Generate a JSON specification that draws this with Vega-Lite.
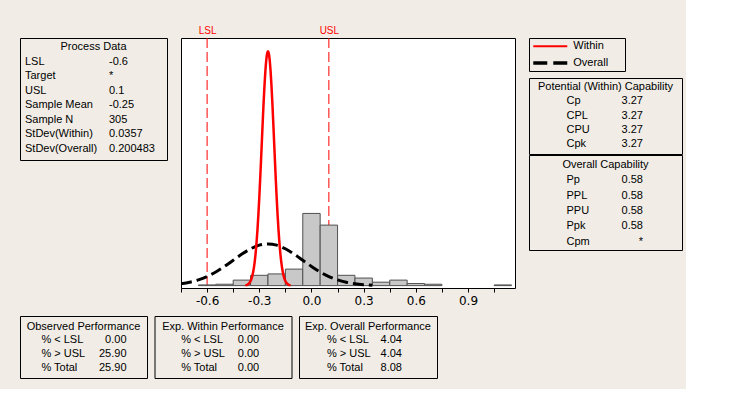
{
  "$schema": "https://vega.github.io/schema/vega-lite/v6.json",
  "background": "#f1ede6",
  "padding": {"left": 19, "top": 24, "right": 3, "bottom": 10},
  "config": {
    "view": {"stroke": "#000000", "strokeWidth": 1},
    "text": {"font": "Liberation Sans", "fontSize": 11, "color": "#000000"},
    "axis": {"labelFont": "DejaVu Sans"}
  },
  "datasets": {
    "hist": [
      {"lo": -0.65, "hi": -0.55, "density": 0.0328},
      {"lo": -0.55, "hi": -0.45, "density": 0.0656},
      {"lo": -0.45, "hi": -0.35, "density": 0.2623},
      {"lo": -0.35, "hi": -0.25, "density": 0.4918},
      {"lo": -0.25, "hi": -0.15, "density": 0.5574},
      {"lo": -0.15, "hi": -0.05, "density": 0.7869},
      {"lo": -0.05, "hi": 0.05, "density": 3.4426},
      {"lo": 0.05, "hi": 0.15, "density": 2.8852},
      {"lo": 0.15, "hi": 0.25, "density": 0.4918},
      {"lo": 0.25, "hi": 0.35, "density": 0.3607},
      {"lo": 0.35, "hi": 0.45, "density": 0.1639},
      {"lo": 0.45, "hi": 0.55, "density": 0.2623},
      {"lo": 0.55, "hi": 0.65, "density": 0.0984},
      {"lo": 0.65, "hi": 0.75, "density": 0.0656},
      {"lo": 1.05, "hi": 1.15, "density": 0.0328}
    ],
    "overall": [
      {"x": -0.75, "density": 0.0887}, {"x": -0.70, "density": 0.1603}, {"x": -0.65, "density": 0.2719},
      {"x": -0.60, "density": 0.4335}, {"x": -0.55, "density": 0.6495}, {"x": -0.50, "density": 0.9144},
      {"x": -0.45, "density": 1.2098}, {"x": -0.40, "density": 1.5040}, {"x": -0.35, "density": 1.7571},
      {"x": -0.30, "density": 1.9289}, {"x": -0.25, "density": 1.9898}, {"x": -0.20, "density": 1.9289},
      {"x": -0.15, "density": 1.7571}, {"x": -0.10, "density": 1.5040}, {"x": -0.05, "density": 1.2098},
      {"x": 0.00, "density": 0.9144}, {"x": 0.05, "density": 0.6495}, {"x": 0.10, "density": 0.4335},
      {"x": 0.15, "density": 0.2719}, {"x": 0.20, "density": 0.1603}, {"x": 0.25, "density": 0.0887},
      {"x": 0.30, "density": 0.0462}, {"x": 0.35, "density": 0.0226}
    ],
    "within": [
      {"x": -0.38, "density": 0.0148}, {"x": -0.375, "density": 0.0243}, {"x": -0.37, "density": 0.0393},
      {"x": -0.365, "density": 0.0624}, {"x": -0.36, "density": 0.0970}, {"x": -0.355, "density": 0.1478},
      {"x": -0.35, "density": 0.2210}, {"x": -0.345, "density": 0.3240}, {"x": -0.34, "density": 0.4658},
      {"x": -0.335, "density": 0.6564}, {"x": -0.33, "density": 0.9075}, {"x": -0.325, "density": 1.2300},
      {"x": -0.32, "density": 1.6346}, {"x": -0.315, "density": 2.1300}, {"x": -0.31, "density": 2.7220},
      {"x": -0.305, "density": 3.4110}, {"x": -0.30, "density": 4.1910}, {"x": -0.295, "density": 5.0490},
      {"x": -0.29, "density": 5.9660}, {"x": -0.285, "density": 6.9100}, {"x": -0.28, "density": 7.8510},
      {"x": -0.275, "density": 8.7450}, {"x": -0.27, "density": 9.5520}, {"x": -0.265, "density": 10.231},
      {"x": -0.26, "density": 10.745}, {"x": -0.255, "density": 11.066}, {"x": -0.25, "density": 11.175},
      {"x": -0.245, "density": 11.066}, {"x": -0.24, "density": 10.745}, {"x": -0.235, "density": 10.231},
      {"x": -0.23, "density": 9.5520}, {"x": -0.225, "density": 8.7450}, {"x": -0.22, "density": 7.8510},
      {"x": -0.215, "density": 6.9100}, {"x": -0.21, "density": 5.9660}, {"x": -0.205, "density": 5.0490},
      {"x": -0.20, "density": 4.1910}, {"x": -0.195, "density": 3.4110}, {"x": -0.19, "density": 2.7220},
      {"x": -0.185, "density": 2.1300}, {"x": -0.18, "density": 1.6346}, {"x": -0.175, "density": 1.2300},
      {"x": -0.17, "density": 0.9075}, {"x": -0.165, "density": 0.6564}, {"x": -0.16, "density": 0.4658},
      {"x": -0.155, "density": 0.3240}, {"x": -0.15, "density": 0.2210}, {"x": -0.145, "density": 0.1478},
      {"x": -0.14, "density": 0.0970}, {"x": -0.135, "density": 0.0624}, {"x": -0.13, "density": 0.0393},
      {"x": -0.125, "density": 0.0243}, {"x": -0.12, "density": 0.0148}
    ],
    "limits": [{"v": -0.6, "lab": "LSL"}, {"v": 0.1, "lab": "USL"}],
    "pd": [
      {"i": 1, "name": "LSL", "value": "-0.6"},
      {"i": 2, "name": "Target", "value": "*"},
      {"i": 3, "name": "USL", "value": "0.1"},
      {"i": 4, "name": "Sample Mean", "value": "-0.25"},
      {"i": 5, "name": "Sample N", "value": "305"},
      {"i": 6, "name": "StDev(Within)", "value": "0.0357"},
      {"i": 7, "name": "StDev(Overall)", "value": "0.200483"}
    ],
    "capw": [
      {"i": 1, "name": "Cp", "value": "3.27"},
      {"i": 2, "name": "CPL", "value": "3.27"},
      {"i": 3, "name": "CPU", "value": "3.27"},
      {"i": 4, "name": "Cpk", "value": "3.27"}
    ],
    "capo": [
      {"i": 1, "name": "Pp", "value": "0.58"},
      {"i": 2, "name": "PPL", "value": "0.58"},
      {"i": 3, "name": "PPU", "value": "0.58"},
      {"i": 4, "name": "Ppk", "value": "0.58"},
      {"i": 5, "name": "Cpm", "value": "*"}
    ],
    "obs": [
      {"i": 1, "name": "% < LSL", "value": "0.00"},
      {"i": 2, "name": "% > USL", "value": "25.90"},
      {"i": 3, "name": "% Total", "value": "25.90"}
    ],
    "expw": [
      {"i": 1, "name": "% < LSL", "value": "0.00"},
      {"i": 2, "name": "% > USL", "value": "0.00"},
      {"i": 3, "name": "% Total", "value": "0.00"}
    ],
    "expo": [
      {"i": 1, "name": "% < LSL", "value": "4.04"},
      {"i": 2, "name": "% > USL", "value": "4.04"},
      {"i": 3, "name": "% Total", "value": "8.08"}
    ]
  },
  "spacing": 8,
  "vconcat": [
    {
      "bounds": "flush",
      "spacing": 14,
      "hconcat": [
        {
          "width": 147, "height": 122,
          "view": {"stroke": "#000000"},
          "layer": [
            {"data": {"values": [{"i": 0, "t": "Process Data"}]},
             "mark": {"type": "text", "align": "center", "baseline": "middle"},
             "encoding": {
               "y": {"field": "i", "type": "ordinal", "axis": null, "scale": {"type": "point", "domain": [0, 1, 2, 3, 4, 5, 6, 7], "padding": 0.699, "align": 0.443}},
               "text": {"field": "t"}}},
            {"data": {"name": "pd"},
             "mark": {"type": "text", "align": "left", "baseline": "middle"},
             "encoding": {
               "x": {"datum": "name", "type": "nominal", "bandPosition": 0, "axis": null, "scale": {"type": "band", "domain": ["name", "value"], "paddingInner": 0.369, "paddingOuter": 0.0595, "align": 0.5}},
               "y": {"field": "i", "type": "ordinal", "axis": null},
               "text": {"field": "name"}}},
            {"data": {"name": "pd"},
             "mark": {"type": "text", "align": "left", "baseline": "middle"},
             "encoding": {
               "x": {"datum": "value", "type": "nominal", "bandPosition": 0, "axis": null},
               "y": {"field": "i", "type": "ordinal", "axis": null},
               "text": {"field": "value"}}}
          ]
        },
        {
          "width": 334, "height": 250,
          "view": {"stroke": "#000000", "fill": "#ffffff"},
          "resolve": {"axis": {"x": "independent"}},
          "layer": [
            {"data": {"name": "limits"},
             "mark": {"type": "rule", "color": "#ff0000", "strokeWidth": 1, "strokeDash": [10, 4]},
             "encoding": {
               "x": {"field": "v", "type": "quantitative",
                     "scale": {"domain": [-0.75, 1.17], "nice": false, "zero": false},
                     "axis": {"orient": "top", "values": [-0.6, 0.1], "labelExpr": "datum.value < 0 ? 'LSL' : 'USL'", "ticks": false, "domain": false, "grid": false, "title": null, "labelColor": "#ff0000", "labelFont": "Liberation Sans", "labelFontSize": 10, "labelPadding": 3, "labelFlush": false}}}},
            {"data": {"name": "hist"},
             "mark": {"type": "bar", "fill": "#c8c8c8", "stroke": "#505050", "strokeWidth": 1},
             "encoding": {
               "x": {"field": "lo", "type": "quantitative",
                     "scale": {"domain": [-0.75, 1.17], "nice": false, "zero": false},
                     "axis": {"orient": "bottom", "values": [-0.75, -0.6, -0.45, -0.3, -0.15, 0, 0.15, 0.3, 0.45, 0.6, 0.75, 0.9, 1.05],
                              "labelExpr": "abs(datum.value*10/3 - round(datum.value*10/3)) < 0.01 ? ((datum.value < -0.001 ? '-' : '') + format(abs(datum.value), '.1f')) : ''",
                              "tickSize": 4, "tickColor": "#000000", "domain": false, "grid": false, "title": null,
                              "labelFont": "DejaVu Sans", "labelFontSize": 12, "labelColor": "#000000", "labelPadding": 3, "labelFlush": false, "labelOverlap": false}},
               "x2": {"field": "hi"},
               "y": {"field": "density", "type": "quantitative", "axis": null,
                     "scale": {"domain": [-0.114, 11.81], "nice": false, "zero": false}},
               "y2": {"datum": 0}}},
            {"data": {"name": "overall"},
             "mark": {"type": "line", "color": "#000000", "strokeWidth": 3, "strokeDash": [11, 5], "interpolate": "monotone", "clip": true},
             "encoding": {
               "x": {"field": "x", "type": "quantitative", "axis": null, "scale": {"domain": [-0.75, 1.17], "nice": false, "zero": false}},
               "y": {"field": "density", "type": "quantitative", "axis": null, "scale": {"domain": [-0.114, 11.81], "nice": false, "zero": false}}}},
            {"data": {"name": "within"},
             "mark": {"type": "line", "color": "#ff0000", "strokeWidth": 2.5, "interpolate": "monotone", "clip": true},
             "encoding": {
               "x": {"field": "x", "type": "quantitative", "axis": null, "scale": {"domain": [-0.75, 1.17], "nice": false, "zero": false}},
               "y": {"field": "density", "type": "quantitative", "axis": null, "scale": {"domain": [-0.114, 11.81], "nice": false, "zero": false}}}}
          ]
        },
        {
          "spacing": 5,
          "vconcat": [
            {
              "width": 96, "height": 33,
              "view": {"stroke": "#000000"},
              "data": {"values": [{"curve": "Within"}, {"curve": "Overall"}]},
              "layer": [
                {"mark": {"type": "rule"},
                 "encoding": {
                   "x": {"datum": "a", "type": "nominal", "axis": null, "scale": {"type": "point", "domain": ["a", "b"], "padding": 0.912, "align": 0.069}},
                   "x2": {"datum": "b"},
                   "y": {"field": "curve", "type": "nominal", "axis": null, "scale": {"type": "point", "domain": ["Within", "Overall"], "padding": 0.488, "align": 0.51}},
                   "color": {"field": "curve", "type": "nominal", "legend": null, "scale": {"domain": ["Within", "Overall"], "range": ["#ff0000", "#000000"]}},
                   "strokeDash": {"field": "curve", "type": "nominal", "legend": null, "scale": {"domain": ["Within", "Overall"], "range": [[1, 0], [14, 6]]}},
                   "strokeWidth": {"field": "curve", "type": "ordinal", "legend": null, "scale": {"domain": ["Within", "Overall"], "range": [2, 3.5]}}}},
                {"mark": {"type": "text", "align": "left", "baseline": "middle", "dx": 6},
                 "encoding": {
                   "x": {"datum": "b", "type": "nominal", "axis": null},
                   "y": {"field": "curve", "type": "nominal", "axis": null},
                   "text": {"field": "curve"}}}
              ]
            },
            {
              "spacing": -1,
              "vconcat": [
                {
                  "width": 153, "height": 76,
                  "view": {"stroke": "#000000"},
                  "layer": [
                    {"data": {"values": [{"i": 0, "t": "Potential (Within) Capability"}]},
                     "mark": {"type": "text", "align": "center", "baseline": "middle"},
                     "encoding": {
                       "y": {"field": "i", "type": "ordinal", "axis": null, "scale": {"type": "point", "domain": [0, 1, 2, 3, 4], "padding": 0.68, "align": 0.48}},
                       "text": {"field": "t"}}},
                    {"data": {"name": "capw"},
                     "mark": {"type": "text", "align": "left", "baseline": "middle"},
                     "encoding": {
                       "x": {"datum": "name", "type": "nominal", "bandPosition": 0, "axis": null, "scale": {"type": "band", "domain": ["name", "value"], "paddingInner": 0, "paddingOuter": 1.752, "align": 0.49}},
                       "y": {"field": "i", "type": "ordinal", "axis": null},
                       "text": {"field": "name"}}},
                    {"data": {"name": "capw"},
                     "mark": {"type": "text", "align": "right", "baseline": "middle"},
                     "encoding": {
                       "x": {"datum": "value", "type": "nominal", "bandPosition": 1, "axis": null},
                       "y": {"field": "i", "type": "ordinal", "axis": null},
                       "text": {"field": "value"}}}
                  ]
                },
                {
                  "width": 153, "height": 95,
                  "view": {"stroke": "#000000"},
                  "layer": [
                    {"data": {"values": [{"i": 0, "t": "Overall Capability"}]},
                     "mark": {"type": "text", "align": "center", "baseline": "middle"},
                     "encoding": {
                       "y": {"field": "i", "type": "ordinal", "axis": null, "scale": {"type": "point", "domain": [0, 1, 2, 3, 4, 5], "padding": 0.6, "align": 0.54}},
                       "text": {"field": "t"}}},
                    {"data": {"name": "capo"},
                     "mark": {"type": "text", "align": "left", "baseline": "middle"},
                     "encoding": {
                       "x": {"datum": "name", "type": "nominal", "bandPosition": 0, "axis": null, "scale": {"type": "band", "domain": ["name", "value"], "paddingInner": 0, "paddingOuter": 1.752, "align": 0.49}},
                       "y": {"field": "i", "type": "ordinal", "axis": null},
                       "text": {"field": "name"}}},
                    {"data": {"name": "capo"},
                     "mark": {"type": "text", "align": "right", "baseline": "middle"},
                     "encoding": {
                       "x": {"datum": "value", "type": "nominal", "bandPosition": 1, "axis": null},
                       "y": {"field": "i", "type": "ordinal", "axis": null},
                       "text": {"field": "value"}}}
                  ]
                }
              ]
            }
          ]
        }
      ]
    },
    {
      "spacing": 5.5,
      "hconcat": [
        {
          "width": 127, "height": 62,
          "view": {"stroke": "#000000"},
          "layer": [
            {"data": {"values": [{"i": 0, "t": "Observed Performance"}]},
             "mark": {"type": "text", "align": "center", "baseline": "middle"},
             "encoding": {
               "y": {"field": "i", "type": "ordinal", "axis": null, "scale": {"type": "point", "domain": [0, 1, 2, 3], "padding": 0.735, "align": 0.52}},
               "text": {"field": "t"}}},
            {"data": {"name": "obs"},
             "mark": {"type": "text", "align": "left", "baseline": "middle"},
             "encoding": {
               "x": {"datum": "name", "type": "nominal", "bandPosition": 0, "axis": null, "scale": {"type": "band", "domain": ["name", "value"], "paddingInner": 0, "paddingOuter": 0.4924, "align": 0.511}},
               "y": {"field": "i", "type": "ordinal", "axis": null},
               "text": {"field": "name"}}},
            {"data": {"name": "obs"},
             "mark": {"type": "text", "align": "right", "baseline": "middle"},
             "encoding": {
               "x": {"datum": "value", "type": "nominal", "bandPosition": 1, "axis": null},
               "y": {"field": "i", "type": "ordinal", "axis": null},
               "text": {"field": "value"}}}
          ]
        },
        {
          "width": 137, "height": 62,
          "view": {"stroke": "#000000"},
          "layer": [
            {"data": {"values": [{"i": 0, "t": "Exp. Within Performance"}]},
             "mark": {"type": "text", "align": "center", "baseline": "middle"},
             "encoding": {
               "y": {"field": "i", "type": "ordinal", "axis": null, "scale": {"type": "point", "domain": [0, 1, 2, 3], "padding": 0.735, "align": 0.52}},
               "text": {"field": "t"}}},
            {"data": {"name": "expw"},
             "mark": {"type": "text", "align": "left", "baseline": "middle"},
             "encoding": {
               "x": {"datum": "name", "type": "nominal", "bandPosition": 0, "axis": null, "scale": {"type": "band", "domain": ["name", "value"], "paddingInner": 0, "paddingOuter": 0.7548, "align": 0.452}},
               "y": {"field": "i", "type": "ordinal", "axis": null},
               "text": {"field": "name"}}},
            {"data": {"name": "expw"},
             "mark": {"type": "text", "align": "right", "baseline": "middle"},
             "encoding": {
               "x": {"datum": "value", "type": "nominal", "bandPosition": 1, "axis": null},
               "y": {"field": "i", "type": "ordinal", "axis": null},
               "text": {"field": "value"}}}
          ]
        },
        {
          "width": 138, "height": 62,
          "view": {"stroke": "#000000"},
          "layer": [
            {"data": {"values": [{"i": 0, "t": "Exp. Overall Performance"}]},
             "mark": {"type": "text", "align": "center", "baseline": "middle"},
             "encoding": {
               "y": {"field": "i", "type": "ordinal", "axis": null, "scale": {"type": "point", "domain": [0, 1, 2, 3], "padding": 0.735, "align": 0.52}},
               "text": {"field": "t"}}},
            {"data": {"name": "expo"},
             "mark": {"type": "text", "align": "left", "baseline": "middle"},
             "encoding": {
               "x": {"datum": "name", "type": "nominal", "bandPosition": 0, "axis": null, "scale": {"type": "band", "domain": ["name", "value"], "paddingInner": 0, "paddingOuter": 0.84, "align": 0.444}},
               "y": {"field": "i", "type": "ordinal", "axis": null},
               "text": {"field": "name"}}},
            {"data": {"name": "expo"},
             "mark": {"type": "text", "align": "right", "baseline": "middle"},
             "encoding": {
               "x": {"datum": "value", "type": "nominal", "bandPosition": 1, "axis": null},
               "y": {"field": "i", "type": "ordinal", "axis": null},
               "text": {"field": "value"}}}
          ]
        }
      ]
    }
  ]
}
